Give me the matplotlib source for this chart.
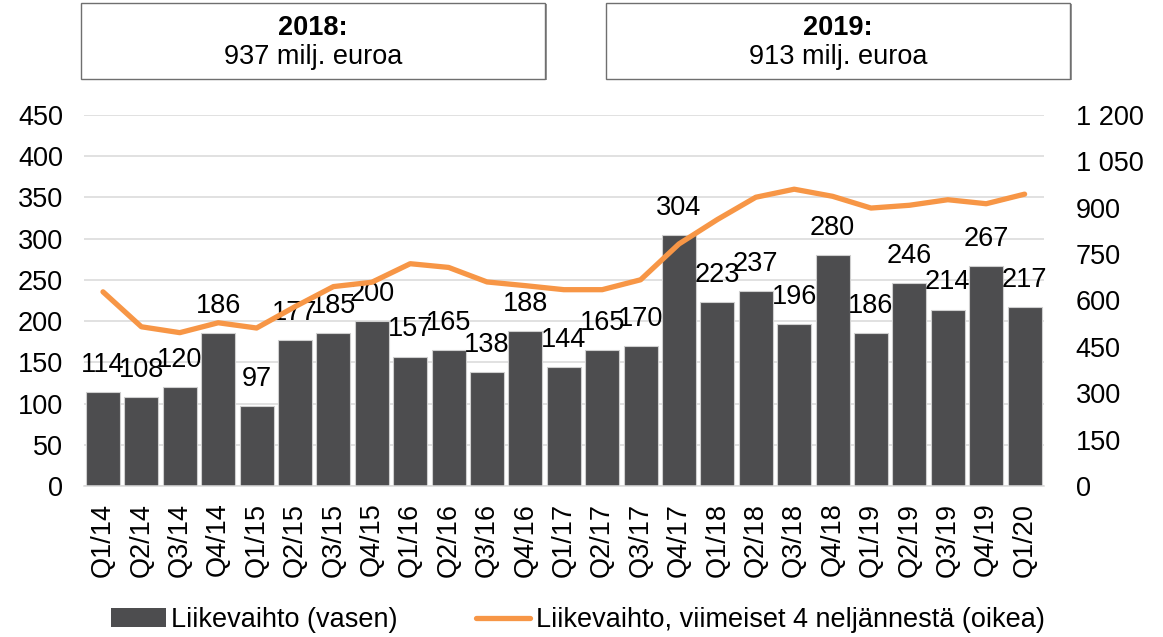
import numpy as np
import matplotlib.pyplot as plt
from matplotlib.patches import Rectangle, Patch
from matplotlib.lines import Line2D
from matplotlib.ticker import FuncFormatter

plt.rcParams['font.family'] = ['Liberation Sans', 'DejaVu Sans']

quarters = ['Q1/14', 'Q2/14', 'Q3/14', 'Q4/14', 'Q1/15', 'Q2/15', 'Q3/15', 'Q4/15',
            'Q1/16', 'Q2/16', 'Q3/16', 'Q4/16', 'Q1/17', 'Q2/17', 'Q3/17', 'Q4/17',
            'Q1/18', 'Q2/18', 'Q3/18', 'Q4/18', 'Q1/19', 'Q2/19', 'Q3/19', 'Q4/19', 'Q1/20']
liikevaihto = [114, 108, 120, 186, 97, 177, 185, 200, 157, 165, 138, 188, 144, 165, 170, 304,
               223, 237, 196, 280, 186, 246, 214, 267, 217]
rolling4 = [628, 515, 496, 528, 511, 580, 645, 659, 719, 707, 660, 648, 635, 635, 667, 783,
            862, 934, 960, 937, 899, 908, 926, 913, 944]
box_titles = ['2018:', '2019:']
box_values = ['937 milj. euroa', '913 milj. euroa']

fs = 19.5
bar_color = '#4d4d4f'
line_color = '#f79646'
grid_color = '#d9d9d9'

fig = plt.figure(figsize=(11.63, 6.37), dpi=100)
ax = fig.add_axes([83.8 / 1163, 1 - 486 / 637, 960 / 1163, 371 / 637])
x = np.arange(len(quarters))

ax.bar(x, liikevaihto, width=0.89, color=bar_color, edgecolor='#cfcfcf', linewidth=0.8, zorder=2)
for xi, v in zip(x, liikevaihto):
    ax.annotate(str(v), (xi, v), xytext=(0, 19.5), textcoords='offset points',
                ha='center', va='center', fontsize=fs, color='black', zorder=4)

ax.set_xlim(-0.5, len(quarters) - 0.5)
ax.set_ylim(0, 450)
ax.set_yticks(np.arange(0, 451, 50))
ax.yaxis.grid(True, color=grid_color, linewidth=1.1, zorder=0)
ax.set_axisbelow(True)
ax.set_xticks(x)
ax.set_xticklabels(quarters, rotation=90, fontsize=fs)
ax.tick_params(axis='x', length=0, pad=12)
ax.tick_params(axis='y', length=0, pad=15, labelsize=fs)
for s in ['top', 'right', 'left']:
    ax.spines[s].set_visible(False)
ax.spines['bottom'].set_color(grid_color)
ax.spines['bottom'].set_linewidth(1.1)

ax2 = ax.twinx()
ax2.plot(x, rolling4, color=line_color, linewidth=3.8, solid_capstyle='round',
         solid_joinstyle='round', zorder=3)
ax2.set_ylim(0, 1200)
ax2.set_yticks(np.arange(0, 1201, 150))
ax2.yaxis.set_major_formatter(FuncFormatter(lambda v, p: f'{int(v):,}'.replace(',', ' ')))
ax2.tick_params(axis='y', length=0, pad=23, labelsize=fs)
for s in ax2.spines.values():
    s.set_visible(False)

# boxes on top
for (x0, x1), title, val in zip([(81, 545), (606, 1070)], box_titles, box_values):
    fig.patches.append(Rectangle((x0 / 1163 + 0.0015, 1 - 80 / 637), (x1 - x0) / 1163, 76 / 637,
                                 transform=fig.transFigure, facecolor='#9a9a9a',
                                 edgecolor='none', zorder=1))
    fig.patches.append(Rectangle((x0 / 1163, 1 - 79 / 637), (x1 - x0) / 1163, 76 / 637,
                                 transform=fig.transFigure, facecolor='white',
                                 edgecolor='#6f6f6f', linewidth=1.0, zorder=2))
    xc = (x0 + x1) / 2 / 1163
    fig.text(xc, 1 - 28 / 637, title, ha='center', va='center', fontsize=fs,
             fontweight='bold', zorder=3)
    fig.text(xc, 1 - 57 / 637, val, ha='center', va='center', fontsize=fs, zorder=3)

handles = [Patch(facecolor=bar_color, edgecolor='none'),
           Line2D([0], [0], color=line_color, linewidth=3.8, solid_capstyle='round')]
fig.legend(handles, ['Liikevaihto (vasen)', 'Liikevaihto, viimeiset 4 neljännestä (oikea)'],
           loc='center', bbox_to_anchor=(0.497, 1 - 620 / 637), ncol=2, frameon=False,
           fontsize=fs, handlelength=2.0, handletextpad=0.2, columnspacing=2.9,
           borderaxespad=0)

fig.savefig('out.png', dpi=100)
